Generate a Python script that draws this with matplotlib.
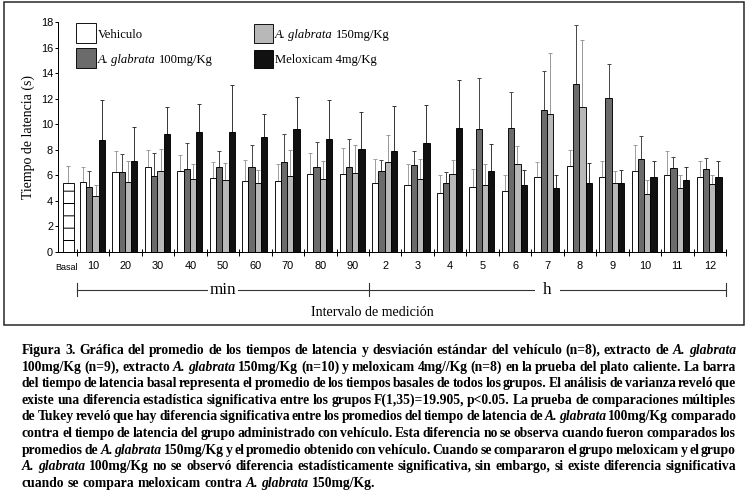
import matplotlib
matplotlib.use('Agg')
import matplotlib.pyplot as plt
import numpy as np
from matplotlib.font_manager import FontProperties
from matplotlib.patches import Rectangle
from matplotlib.transforms import blended_transform_factory

# ---------------- data ----------------
groups = ['10', '20', '30', '40', '50', '60', '70', '80', '90',
          '2', '3', '4', '5', '6', '7', '8', '9', '10', '11', '12']
basal_mean = 5.43
basal_sd = 1.33

veh_mean = [5.48, 6.26, 6.63, 6.34, 5.79, 5.56, 5.56, 6.08, 6.08,
            5.40, 5.24, 4.62, 5.11, 4.75, 5.84, 6.73, 5.87, 6.34, 6.03, 5.90]
veh_sd = [1.20, 1.62, 1.33, 1.28, 1.25, 1.64, 1.30, 1.64, 2.03,
          1.88, 1.62, 1.38, 1.36, 1.25, 1.20, 1.25, 1.23, 2.03, 1.90, 1.20]

ag100_mean = [5.11, 6.24, 5.97, 6.50, 6.68, 6.68, 7.04, 6.68, 6.65,
              6.34, 6.81, 5.43, 9.60, 9.68, 11.09, 13.15, 12.03, 7.28, 6.60, 6.47]
ag100_sd = [1.23, 1.40, 1.75, 2.00, 1.22, 1.67, 2.17, 1.96, 2.22,
            0.86, 1.09, 0.86, 4.04, 2.82, 3.05, 4.61, 2.66, 1.82, 0.86, 0.86]

ag150_mean = [4.41, 5.45, 6.37, 5.71, 5.64, 5.37, 5.95, 5.74, 6.16,
              7.04, 5.71, 6.10, 5.22, 6.91, 10.77, 11.35, 5.37, 4.54, 4.98, 5.35]
ag150_sd = [0.81, 1.65, 1.67, 1.15, 1.36, 1.02, 2.03, 1.38, 2.21,
            2.12, 1.54, 1.07, 1.64, 1.41, 4.83, 5.22, 0.97, 1.12, 1.07, 0.65]

melox_mean = [8.79, 7.10, 9.21, 9.42, 9.42, 9.00, 9.63, 8.82, 8.04,
              7.93, 8.50, 9.73, 6.34, 5.24, 5.00, 5.40, 5.37, 5.90, 5.61, 5.90]
melox_sd = [3.13, 2.68, 2.14, 2.16, 3.65, 1.77, 2.53, 3.08, 2.92,
            3.50, 2.98, 3.73, 2.09, 1.18, 1.00, 1.54, 1.05, 1.20, 1.04, 1.20]

series_labels = ['Vehiculo', '*A. glabrata* 100mg/Kg',
                 '*A. glabrata* 150mg/Kg', 'Meloxicam 4mg/Kg']

caption_lines = [
    "Figura 3. Gráfica del promedio de los tiempos de latencia y desviación estándar del vehículo (n=8), extracto de *A. glabrata*",
    "100mg/Kg (n=9), extracto *A. glabrata* 150mg/Kg (n=10) y meloxicam 4mg//Kg (n=8) en la prueba del plato caliente. La barra",
    "del tiempo de latencia basal representa el promedio de los tiempos basales de todos los grupos. El análisis de varianza reveló que",
    "existe una diferencia estadística significativa entre los grupos F(1,35)=19.905, p<0.05. La prueba de comparaciones múltiples",
    "de Tukey reveló que hay diferencia significativa entre los promedios del tiempo de latencia de *A. glabrata* 100mg/Kg comparado",
    "contra el tiempo de latencia del grupo administrado con vehículo. Esta diferencia no se observa cuando fueron comparados los",
    "promedios de *A. glabrata* 150mg/Kg y el promedio obtenido con vehículo. Cuando se compararon el grupo meloxicam y el grupo",
    "*A. glabrata* 100mg/Kg no se observó diferencia estadísticamente significativa, sin embargo, si existe diferencia significativa",
    "cuando se compara meloxicam contra *A. glabrata* 150mg/Kg.",
]

# ---------------- style ----------------
DPI = 74
W, H = 754, 501


def pt(px):
    return px * 72.0 / DPI


def fx(x):
    return x / W


def fy(y):
    return 1 - y / H


plt.rcParams['hatch.linewidth'] = pt(1.0)
plt.rcParams['font.family'] = ['Liberation Sans', 'DejaVu Sans']

bar_colors = ['white', '#6b6b6b', '#b8b8b8', '#111111']
err_colors = ['#a0a0a0', '#4a4a4a', '#9a9a9a', '#3a3a3a']

fig = plt.figure(figsize=(W / DPI, H / DPI), dpi=DPI)
renderer = fig.canvas.get_renderer()

ax = fig.add_axes([fx(58), fy(252), fx(726) - fx(58), fy(22) - fy(252)])
ax.set_xlim(-0.585, 20)
ax.set_ylim(0, 18)

bw = 0.193
base = np.arange(len(groups)) + 0.478
means = [veh_mean, ag100_mean, ag150_mean, melox_mean]
sds = [veh_sd, ag100_sd, ag150_sd, melox_sd]
for j in range(4):
    xs = base + (j - 1.5) * bw
    ax.bar(xs, means[j], width=bw, color=bar_colors[j], edgecolor='black',
           linewidth=pt(0.9), zorder=2)
    ax.errorbar(xs, means[j], yerr=[np.zeros(len(groups)), sds[j]], fmt='none',
                ecolor=err_colors[j], elinewidth=pt(1.0), capsize=pt(2),
                capthick=pt(1.0), zorder=1, clip_on=False)

# basal bar
ax.bar([-0.262], [basal_mean], width=0.339, color='white', edgecolor='black',
       hatch='-', linewidth=pt(0.9), zorder=2)
ax.errorbar([-0.262], [basal_mean], yerr=[[0], [basal_sd]], fmt='none',
            ecolor='#9a9a9a', elinewidth=pt(1.0), capsize=pt(2), capthick=pt(1.0),
            zorder=1)

for s in ['top', 'right']:
    ax.spines[s].set_visible(False)
for s in ['left', 'bottom']:
    ax.spines[s].set_linewidth(pt(1.0))

ax.set_yticks(np.arange(0, 19, 2))
ax.tick_params(axis='y', direction='out', length=pt(3), width=pt(1.0),
               labelsize=pt(11), pad=pt(2))
ax.set_xticks(np.arange(0, 21))
ax.set_xticklabels([])
ax.tick_params(axis='x', which='major', direction='inout', length=pt(7), width=pt(1.0))
ax.set_xticks(np.arange(len(groups)) + 0.5, minor=True)
ax.set_xticklabels(groups, minor=True)
ax.tick_params(axis='x', which='minor', length=0, labelsize=pt(11), pad=pt(9))

bt = blended_transform_factory(ax.transData, fig.transFigure)
ax.text(-0.31, fy(268), 'Basal', transform=bt, ha='center', va='center',
        fontsize=pt(9))

# bracket below the axis
yb = fy(290)
lc = '#333333'
ax.plot([0, 20], [yb, yb], transform=bt, color=lc, lw=pt(1.1), clip_on=False)
for xv in [0, 9, 20]:
    ax.plot([xv, xv], [fy(283), fy(296)], transform=bt, color=lc, lw=pt(1.1),
            clip_on=False)
ax.text(4.5, yb, 'min', transform=bt, ha='center', va='center',
        family='Liberation Serif', fontsize=pt(17),
        bbox=dict(facecolor='white', edgecolor='none', pad=pt(2)))
ax.text(14.5, yb, 'h', transform=bt, ha='center', va='center',
        family='Liberation Serif', fontsize=pt(17),
        bbox=dict(facecolor='white', edgecolor='none', pad=pt(8)))

fig.text(fx(372), fy(313), 'Intervalo de medición', ha='center', va='center',
         family='Liberation Serif', fontsize=pt(14))
fig.text(fx(28.5), fy(137), 'Tiempo de latencia (s)', rotation=90, ha='center',
         va='center', family='Liberation Serif', fontsize=pt(13.9))

# frame
fig.add_artist(Rectangle((fx(4), fy(325)), fx(744) - fx(4), fy(2) - fy(325),
                         transform=fig.transFigure, fill=False,
                         edgecolor='#222222', linewidth=pt(1.5)))


# ---------------- rich text helpers ----------------
def fprop(size_px, italic, bold):
    return FontProperties(family='Liberation Serif', size=pt(size_px),
                          style='italic' if italic else 'normal',
                          weight='bold' if bold else 'normal')


def measure(s, prop):
    w, h, d = renderer.get_text_width_height_descent(s, prop, ismath=False)
    return w


def parse(line):
    toks = []
    for k, seg in enumerate(line.split('*')):
        for w in seg.split():
            toks.append((w, k % 2 == 1))
    return toks


def parse_segments(line):
    segs = []
    for k, seg in enumerate(line.split('*')):
        seg = seg.strip()
        if seg:
            segs.append((seg, k % 2 == 1))
    return segs


def space_w(size_px, bold):
    p = fprop(size_px, False, bold)
    return measure('n n', p) - measure('nn', p)


def draw_tokens(tokens, x0, ybase, size_px, bold, target=None, va='baseline',
                space_scale=1.0):
    ws = [measure(w, fprop(size_px, it, bold)) for w, it in tokens]
    if target is None or len(tokens) < 2:
        gap = space_w(size_px, bold) * space_scale
    else:
        gap = (target - sum(ws)) / (len(tokens) - 1)
    x = x0
    for (w, it), wd in zip(tokens, ws):
        fig.text(fx(x), fy(ybase), w, fontproperties=fprop(size_px, it, bold),
                 ha='left', va=va)
        x += wd + gap


# legend (manual)
leg_boxes = [(76, 23, 20, 20), (76, 48, 20, 20), (254, 24, 19, 19), (254, 50, 19, 18)]
for j in range(4):
    x, y, w, h = leg_boxes[j]
    fig.add_artist(Rectangle((fx(x), fy(y + h)), w / W, h / H, transform=fig.transFigure,
                             facecolor=bar_colors[j], edgecolor='black',
                             linewidth=pt(0.9)))
    draw_tokens(parse_segments(series_labels[j]), x + w + 2, y + h / 2, 12.6, False,
                va='center_baseline', space_scale=0.9)

# caption (justified)
cap_size = 14.2
toks_all = [parse(l) for l in caption_lines]
sp = space_w(cap_size, True)
need = max(sum(measure(w, fprop(cap_size, it, True)) for w, it in t)
           + (len(t) - 1) * sp * 0.5 for t in toks_all[:-1])
if need > 714:
    cap_size *= 714.0 / need
for k, t in enumerate(toks_all):
    yb_ = 354 + 16.6 * k
    if k < len(toks_all) - 1:
        draw_tokens(t, 22, yb_, cap_size, True, target=714)
    else:
        draw_tokens(t, 22, yb_, cap_size, True)

fig.savefig('out.png', dpi=DPI)
